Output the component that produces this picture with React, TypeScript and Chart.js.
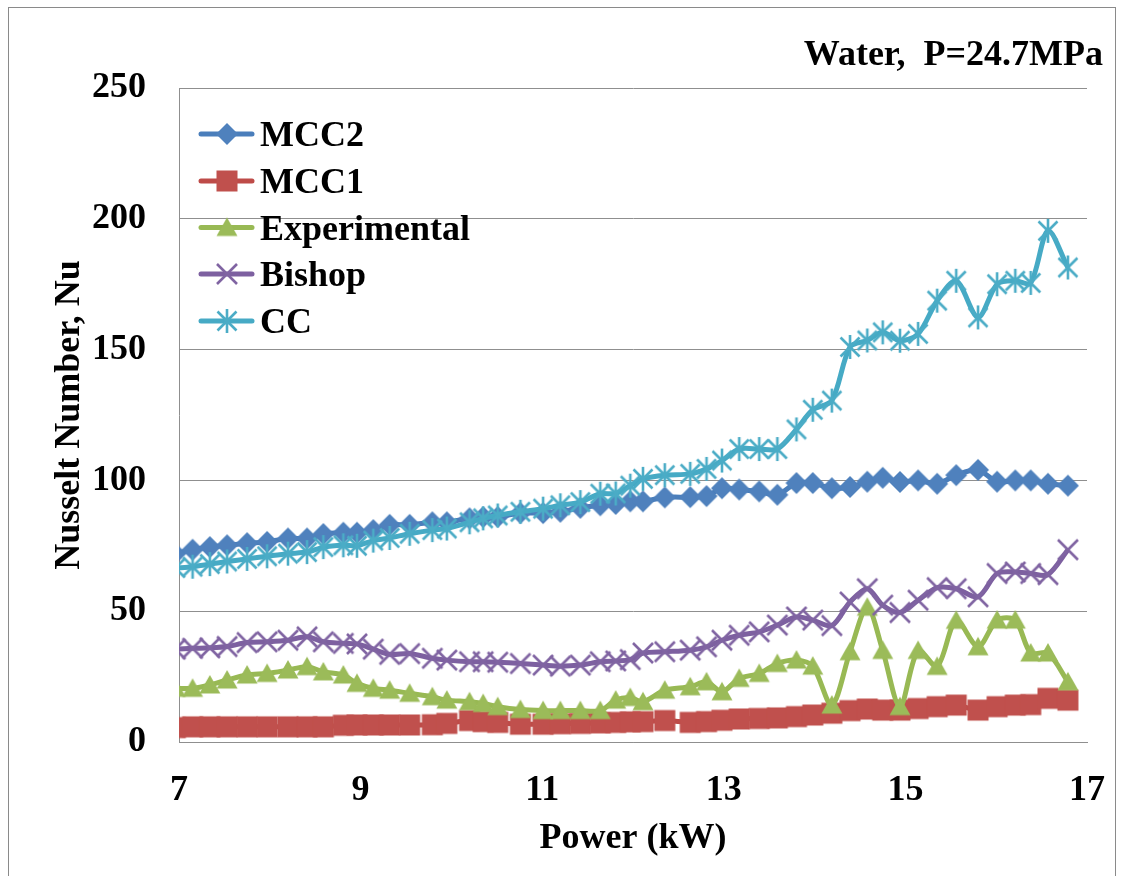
import React, { useEffect, useRef } from 'react';
import { Chart, registerables } from 'chart.js';

Chart.register(...registerables);

// Power (kW) – shared x values of every series
const powerKW = [
  6.96, 7.15, 7.34, 7.53, 7.75, 7.97, 8.2, 8.41, 8.59, 8.81,
  8.96, 9.14, 9.32, 9.54, 9.79, 9.95, 10.2, 10.35, 10.51, 10.76,
  11.01, 11.2, 11.42, 11.64, 11.81, 11.97, 12.11, 12.35, 12.63, 12.81,
  12.98, 13.17, 13.39, 13.59, 13.8, 13.98, 14.19, 14.39, 14.58, 14.75,
  14.94, 15.14, 15.35, 15.56, 15.8, 16.01, 16.21, 16.38, 16.57, 16.79,
];

const mcc2 = [
  72, 73.5, 74.5, 75.2, 76, 76.5, 77.8, 77.8, 79.5, 80,
  80, 81, 83, 83, 84, 84, 85.5, 86, 86, 87.5,
  87.5, 88, 89.5, 90.5, 91, 92, 92, 93.5, 93.6, 94,
  97, 96.5, 95.8, 94.5, 99, 99, 97, 97.5, 99.5, 101,
  99.4, 100, 98.7, 102, 104, 99.5, 100, 100, 98.7, 98,
];

const mcc1 = [
  5.5, 5.8, 5.8, 5.8, 5.8, 5.8, 5.8, 5.8, 5.8, 6.4,
  6.5, 6.5, 6.5, 6.5, 6.6, 7.1, 8.2, 7.8, 7.5, 6.8,
  6.8, 7, 7.1, 7.3, 7.5, 7.7, 7.8, 8.2, 7.5, 7.8,
  8.3, 8.8, 9, 9.2, 9.7, 10.3, 11, 12, 12.6, 12.2,
  12.2, 12.8, 13.5, 14.1, 12.2, 13.5, 14.1, 14.3, 16.7, 16,
];

const experimental = [
  20.5, 20.5, 21.8, 23.7, 25.6, 26.2, 27.5, 28.8, 26.8, 25.6,
  22.4, 20.5, 19.8, 18.6, 17.3, 16, 15.4, 14.7, 13.5, 12.4,
  12, 12, 12, 12, 16, 17, 15.4, 19.8, 21.1, 23,
  19.2, 24.3, 26.2, 30, 31.3, 29, 14.1, 34.5, 51.5, 35,
  13.5, 35, 28.9, 46.5, 36.4, 46.6, 46.6, 34, 34, 23,
];

const bishop = [
  35.5, 35.8, 36, 36.5, 38, 38.3, 38.9, 40.2, 38.3, 37.7,
  37.5, 35.5, 33.5, 33.8, 32, 31.3, 30.7, 30.7, 30.5, 30,
  29.4, 29, 29.4, 30.7, 31, 31.5, 34, 34.5, 35.1, 36.4,
  38.9, 40.8, 42.1, 44.7, 47.8, 46.6, 44.5, 53.5, 58.6, 52.3,
  49.5, 54.2, 59, 58.6, 55.5, 64.4, 65, 64.4, 64, 73.5,
];

const cc = [
  66.5, 67, 68, 69, 70, 71, 72, 72.6, 74.5, 75.2,
  75, 77, 78, 79.6, 81, 81.6, 84, 85.5, 86.6, 88,
  89.2, 90.5, 91.7, 94.9, 95, 98, 100.6, 102, 102.5, 104.4,
  107.6, 112, 112, 112, 119.5, 127, 130.5, 151, 153.5, 156.6,
  153.4, 156, 168.7, 176.3, 162.3, 175, 176.3, 175.5, 195.4, 181.4,
];

const seriesNames = ['MCC2', 'MCC1', 'Experimental', 'Bishop', 'CC'];
const seriesValues = [mcc2, mcc1, experimental, bishop, cc];
const seriesColors = ['#4A7EBB', '#BE4B48', '#98B954', '#7D60A0', '#46AAC5'];
const markerColors = ['#4F81BD', '#C0504D', '#9BBB59', '#8064A2', '#4BACC6'];
const markerKinds = ['diamond', 'square', 'triangle', 'x', 'star'];

const xTicks = [7, 9, 11, 13, 15, 17];
const yTicks = [0, 50, 100, 150, 200, 250];

const chartTitle = 'Water,  P=24.7MPa';
const xTitle = 'Power (kW)';
const yTitle = 'Nusselt Number, Nu';

const FONT_FAMILY = '"Liberation Serif", "Times New Roman", serif';

function makeMarker(kind: string, color: string): HTMLCanvasElement {
  const s = 28;
  const c = document.createElement('canvas');
  c.width = s;
  c.height = s;
  const g = c.getContext('2d') as CanvasRenderingContext2D;
  const m = s / 2;
  g.fillStyle = color;
  g.strokeStyle = color;
  g.lineCap = 'butt';
  if (kind === 'diamond') {
    g.beginPath();
    g.moveTo(m, m - 11);
    g.lineTo(m + 11, m);
    g.lineTo(m, m + 11);
    g.lineTo(m - 11, m);
    g.closePath();
    g.fill();
  } else if (kind === 'square') {
    g.fillRect(m - 10.5, m - 10.5, 21, 21);
  } else if (kind === 'triangle') {
    g.beginPath();
    g.moveTo(m, m - 10);
    g.lineTo(m + 10.5, m + 8.5);
    g.lineTo(m - 10.5, m + 8.5);
    g.closePath();
    g.fill();
  } else if (kind === 'x') {
    g.lineWidth = 2.6;
    g.beginPath();
    g.moveTo(m - 10, m - 10);
    g.lineTo(m + 10, m + 10);
    g.moveTo(m + 10, m - 10);
    g.lineTo(m - 10, m + 10);
    g.stroke();
  } else {
    g.lineWidth = 2.6;
    g.beginPath();
    g.moveTo(m - 9.5, m - 9.5);
    g.lineTo(m + 9.5, m + 9.5);
    g.moveTo(m + 9.5, m - 9.5);
    g.lineTo(m - 9.5, m + 9.5);
    g.moveTo(m, m - 12);
    g.lineTo(m, m + 12);
    g.stroke();
  }
  return c;
}

export default function App() {
  const canvasRef = useRef<HTMLCanvasElement | null>(null);

  useEffect(() => {
    const canvas = canvasRef.current;
    if (!canvas) return;
    const markers = markerKinds.map((k, i) => makeMarker(k, markerColors[i]));

    const overlay = {
      id: 'overlay',
      afterDraw(chart: any) {
        const ctx = chart.ctx as CanvasRenderingContext2D;
        ctx.save();
        ctx.fillStyle = '#000';
        ctx.font = `bold 36px ${FONT_FAMILY}`;
        ctx.textAlign = 'right';
        ctx.textBaseline = 'alphabetic';
        ctx.fillText(chartTitle, 1103, 65);

        // legend
        const baselines = [146, 193, 239.5, 286, 333];
        ctx.textAlign = 'left';
        seriesNames.forEach((name, i) => {
          const yl = baselines[i] - 12;
          ctx.strokeStyle = seriesColors[i];
          ctx.lineWidth = 5;
          ctx.lineCap = 'round';
          ctx.beginPath();
          ctx.moveTo(201, yl);
          ctx.lineTo(252, yl);
          ctx.stroke();
          const mk = markers[i];
          ctx.drawImage(mk, 227 - mk.width / 2, yl - mk.height / 2);
          ctx.fillStyle = '#000';
          ctx.fillText(name, 260, baselines[i]);
        });
        ctx.restore();
      },
    };

    const datasets = seriesNames.map((name, i) => ({
      label: name,
      data: powerKW.map((x, j) => ({ x, y: seriesValues[i][j] })),
      borderColor: seriesColors[i],
      backgroundColor: markerColors[i],
      borderWidth: 5,
      tension: 0.3,
      pointStyle: markers[i],
      pointRadius: 10,
      pointHoverRadius: 10,
      clip: 0,
      order: 4 - i,
    }));

    const tickFont = { family: FONT_FAMILY, size: 36, weight: 'bold' as const };

    const chart = new Chart(canvas, {
      type: 'line',
      data: { datasets },
      options: {
        animation: false,
        responsive: false,
        events: [],
        layout: { padding: { left: 0, right: 35, top: 88, bottom: 0 } },
        plugins: {
          legend: { display: false },
          tooltip: { enabled: false },
        },
        scales: {
          x: {
            type: 'linear',
            min: 7,
            max: 17,
            afterFit: (scale: any) => {
              scale.height = 134;
              scale.paddingLeft = 0;
              scale.paddingRight = 0;
            },
            afterBuildTicks: (scale: any) => { scale.ticks = xTicks.map((v) => ({ value: v })); },
            ticks: { font: tickFont, color: '#000', padding: 27, maxRotation: 0, autoSkip: false },
            grid: { display: false, drawTicks: false },
            border: { display: true, color: '#8f8f8f', width: 1 },
            title: { display: true, text: xTitle, font: tickFont, color: '#000', padding: { top: 0, bottom: 16 } },
          },
          y: {
            type: 'linear',
            min: 0,
            max: 250,
            afterFit: (scale: any) => {
              scale.width = 179;
              scale.paddingTop = 0;
              scale.paddingBottom = 0;
            },
            afterBuildTicks: (scale: any) => { scale.ticks = yTicks.map((v) => ({ value: v })); },
            ticks: { font: tickFont, color: '#000', padding: 33 },
            grid: { display: true, drawTicks: false, color: '#8f8f8f', lineWidth: 1 },
            border: { display: true, color: '#8f8f8f', width: 1 },
            title: { display: true, text: yTitle, font: tickFont, color: '#000', padding: { top: 48, bottom: 0 } },
          },
        },
      },
      plugins: [overlay],
    } as any);

    return () => chart.destroy();
  }, []);

  return (
    <div style={{ position: 'absolute', left: 0, top: 0, width: 1122, height: 876, overflow: 'hidden', background: '#fff' }}>
      <div style={{ position: 'absolute', left: 8, top: 7, width: 1108, height: 900, border: '1px solid #8a8a8a', boxSizing: 'border-box' }} />
      <canvas ref={canvasRef} width={1122} height={876} style={{ position: 'absolute', left: 0, top: 0, display: 'block' }} />
    </div>
  );
}
